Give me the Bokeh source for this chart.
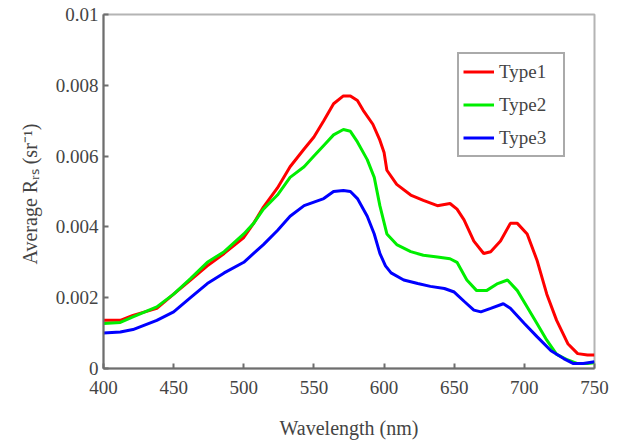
from bokeh.plotting import figure
from bokeh.models import Range1d, FixedTicker, Legend, LegendItem
from bokeh.embed import file_html
from bokeh.resources import INLINE

# ---- data ----
wl1 = [400, 412, 421, 438, 450, 462, 474, 486, 500, 507, 514, 524, 533, 543, 550, 557, 564, 571, 576, 581,
       585, 592, 597, 600, 602, 609, 619, 628, 638, 647, 652, 657, 664, 671, 676, 683, 690, 695, 702, 709,
       716, 723, 731, 738, 745, 750]
type1 = [0.00136, 0.00136, 0.0015, 0.0017, 0.0021, 0.0025, 0.0029, 0.00325, 0.0037, 0.0041,
         0.00456, 0.0051, 0.0057, 0.0062, 0.00654, 0.0070, 0.00748, 0.0077, 0.0077, 0.00757,
         0.0073, 0.0069, 0.00645, 0.0061, 0.0056, 0.0052, 0.0049, 0.00475, 0.0046, 0.00466,
         0.0045, 0.0042, 0.0036, 0.00325, 0.0033, 0.0036, 0.0041, 0.0041, 0.0038, 0.00306,
         0.0021, 0.00136, 0.0007, 0.00042, 0.00038, 0.00038]

wl2 = [400, 412, 421, 438, 450, 462, 474, 486, 500, 507, 514, 524, 533, 543, 550, 557, 564, 571, 576, 581,
       588, 593, 597, 602, 609, 619, 628, 638, 647, 652, 659, 666, 673, 681, 688, 695, 702, 709, 716, 723,
       731, 738, 745, 750]
type2 = [0.00127, 0.0013, 0.00146, 0.00174, 0.0021, 0.00254, 0.003, 0.0033, 0.0038, 0.0041,
         0.0045, 0.0049, 0.0054, 0.0057, 0.006, 0.0063, 0.0066, 0.00675, 0.0067, 0.0064,
         0.0059, 0.0054, 0.0046, 0.0038, 0.0035, 0.0033, 0.0032, 0.00315, 0.0031, 0.003,
         0.0025, 0.0022, 0.0022, 0.0024, 0.0025, 0.0022, 0.00174, 0.00127, 0.0008, 0.0004,
         0.00024, 0.00014, 0.00014, 0.00016]

wl3 = [400, 412, 421, 438, 450, 462, 474, 486, 500, 507, 514, 524, 533, 543, 550, 557, 564, 571, 576, 581,
       588, 593, 597, 601, 605, 614, 624, 633, 643, 650, 657, 664, 669, 676, 685, 690, 700, 709, 719, 728,
       735, 742, 750]
type3 = [0.001, 0.00103, 0.0011, 0.00136, 0.0016, 0.002, 0.0024, 0.0027, 0.003, 0.00325,
         0.0035, 0.0039, 0.0043, 0.0046, 0.0047, 0.0048, 0.005, 0.00503, 0.005, 0.0048,
         0.0043, 0.0038, 0.00325, 0.0029, 0.0027, 0.0025, 0.0024, 0.00232, 0.00226, 0.00216,
         0.0019, 0.00165, 0.0016, 0.0017, 0.00183, 0.0017, 0.00127, 0.0009, 0.0005, 0.00028,
         0.00014, 0.00014, 0.00019]

series_names = ["Type1", "Type2", "Type3"]
x_ticks = [400, 450, 500, 550, 600, 650, 700, 750]
y_ticks = [0, 0.002, 0.004, 0.006, 0.008, 0.01]
y_tick_labels = ["0", "0.002", "0.004", "0.006", "0.008", "0.01"]
x_title = "Wavelength (nm)"
y_title = "Average  R\u1d63\u209b (sr\u207b\u00b9)"

# ---- figure ----
W, H = 622, 447
FL, FR, FT, FB = 103, 28, 14, 79
serif = "Liberation Serif"

p = figure(width=W, height=H, output_backend="svg", toolbar_location=None,
           x_range=Range1d(400, 750), y_range=Range1d(0, 0.01),
           min_border_left=FL, min_border_right=FR, min_border_top=FT, min_border_bottom=FB)
p.grid.visible = False
p.outline_line_color = "#b4b4b4"
p.outline_line_width = 2

p.xaxis.axis_line_color = "#6e6e6e"
p.yaxis.axis_line_color = "#6e6e6e"
p.xaxis.axis_line_width = 2
p.yaxis.axis_line_width = 2
p.xaxis.major_tick_line_color = "#6e6e6e"
p.yaxis.major_tick_line_color = "#6e6e6e"
p.xaxis.major_tick_line_width = 2
p.yaxis.major_tick_line_width = 2
p.xaxis.major_tick_in = 5
p.yaxis.major_tick_in = 5
p.xaxis.major_tick_out = 0
p.yaxis.major_tick_out = 0
p.xaxis.minor_tick_line_color = None
p.yaxis.minor_tick_line_color = None
p.xaxis.major_label_text_font = serif
p.yaxis.major_label_text_font = serif
p.xaxis.major_label_text_font_size = "19px"
p.yaxis.major_label_text_font_size = "19px"

p.xaxis.ticker = FixedTicker(ticks=x_ticks)
p.xaxis.major_label_standoff = 12
p.xaxis.axis_label = x_title
p.xaxis.axis_label_text_font = serif
p.xaxis.axis_label_text_font_size = "20px"
p.xaxis.axis_label_text_font_style = "normal"
p.xaxis.axis_label_standoff = 20

p.yaxis.ticker = FixedTicker(ticks=y_ticks)
p.yaxis.major_label_overrides = {t: s for t, s in zip(y_ticks, y_tick_labels)}
p.yaxis.major_label_standoff = 5
p.yaxis.axis_label = y_title
p.yaxis.axis_label_text_font = serif
p.yaxis.axis_label_text_font_size = "20px"
p.yaxis.axis_label_text_font_style = "normal"
p.yaxis.axis_label_standoff = 12

colors = ["#ff0000", "#00ee00", "#0000ff"]
renderers = []
for xs, ys, c in zip([wl1, wl2, wl3], [type1, type2, type3], colors):
    renderers.append(p.line(xs, ys, line_color=c, line_width=3))

legend = Legend(items=[LegendItem(label=n, renderers=[r]) for n, r in zip(series_names, renderers)],
                location=(354, 211), margin=0, padding=4,
                glyph_width=31, glyph_height=27, label_height=27, label_width=60,
                label_standoff=5, spacing=6,
                label_text_font=serif, label_text_font_size="19px",
                border_line_color="#555555", border_line_width=2)
p.add_layout(legend, "center")

open("out.html", "w").write(file_html(p, INLINE))
